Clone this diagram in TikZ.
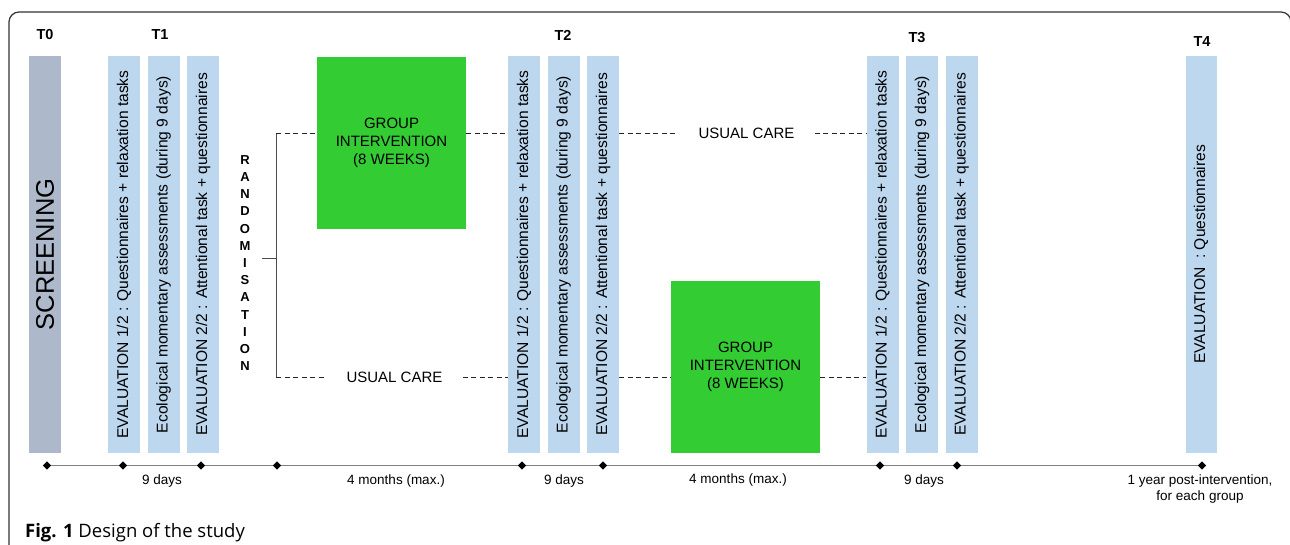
\documentclass[tikz,border=0pt]{standalone}
\usepackage{fontspec}
\usepackage{graphicx}
\setmainfont{Liberation Sans}
\newfontfamily\capfont{Open Sans}
\usetikzlibrary{shapes.geometric, arrows, calc}
\definecolor{evalblue}{HTML}{BDD7EE}
\definecolor{screengray}{HTML}{ADB9CA}
\definecolor{groupgreen}{HTML}{33CC33}
\definecolor{axisgray}{HTML}{808080}
\newcommand{\vlabel}[1]{\rotatebox{90}{#1}}
\tikzstyle{timepoint} = [font=\fontsize{14.5}{16}\selectfont\bfseries]
\tikzstyle{screenbar} = [rectangle, minimum width=32pt, minimum height=397pt, inner sep=0pt, fill=screengray, font=\fontsize{25.5}{30}\selectfont]
\tikzstyle{evalbar} = [rectangle, minimum width=32pt, minimum height=397pt, inner sep=0pt, fill=evalblue, font=\fontsize{15.6}{18}\selectfont]
\tikzstyle{groupbox} = [rectangle, minimum width=149pt, minimum height=172pt, align=center, fill=groupgreen, font=\fontsize{15}{18}\selectfont]
\tikzstyle{care} = [inner xsep=20pt, inner ysep=0pt, font=\fontsize{15}{18}\selectfont]
\tikzstyle{randtext} = [align=center, font=\fontsize{13}{17.2}\selectfont\bfseries]
\tikzstyle{arm} = [line width=0.9pt, dash pattern=on 5pt off 3.5pt, black!85]
\tikzstyle{bracket} = [line width=0.9pt, black!70]
\tikzstyle{daymark} = [diamond, fill=black, inner sep=0pt, minimum size=8.5pt]
\tikzstyle{timeline} = [line width=1.3pt, axisgray]
\tikzstyle{span} = [align=center, font=\fontsize{13.5}{16}\selectfont]

\begin{document}
\begin{tikzpicture}[x=1pt, y=-1pt, node distance=39.5pt]
      \useasboundingbox (0,0) rectangle (1290,544);
      % frame
      \draw [line width=1.2pt, black!80, rounded corners=10pt] (9,560) -- (9,12) -- (1291,12) -- (1291,560);

      % screening
      \node (t0) [timepoint] at (45,35) {T0};
      \node (scr) [screenbar] at (45,254.5) {\vlabel{SCREENING}};

      % T1
      \node (t1) [timepoint] at (160,35) {T1};
      \node (e1a) [evalbar] at (124,254.5) {\vlabel{EVALUATION 1/2 : Questionnaires + relaxation tasks}};
      \node (e1b) [evalbar, right of=e1a] {\vlabel{Ecological momentary assessments (during 9 days)}};
      \node (e1c) [evalbar, right of=e1b] {\vlabel{EVALUATION 2/2 : Attentional task + questionnaires}};

      % randomisation
      \node (rand) [randtext] at (245,263) {R\\A\\N\\D\\O\\M\\I\\S\\A\\T\\I\\O\\N};
      \coordinate (split) at (276,258);
      \coordinate (stub) at (262,258);
      \coordinate (upper) at (276,133);
      \coordinate (lower) at (276,377);
      \draw [bracket] (upper) -- (lower);
      \draw [bracket] (stub) -- (split);

      \node (g1) [groupbox] at (391.5,142.5) {GROUP\\INTERVENTION\\(8 WEEKS)};
      \node (uc1) [care] at (394.5,377) {USUAL CARE};

      % T2
      \node (t2) [timepoint] at (563,35) {T2};
      \node (e2a) [evalbar] at (524,254.5) {\vlabel{EVALUATION 1/2 : Questionnaires + relaxation tasks}};
      \node (e2b) [evalbar, right of=e2a] {\vlabel{Ecological momentary assessments (during 9 days)}};
      \node (e2c) [evalbar, right of=e2b] {\vlabel{EVALUATION 2/2 : Attentional task + questionnaires}};

      \node (uc2) [care] at (746.5,133) {USUAL CARE};
      \node (g2) [groupbox] at (745.5,367) {GROUP\\INTERVENTION\\(8 WEEKS)};

      % T3
      \node (t3) [timepoint] at (917,38) {T3};
      \node (e3a) [evalbar] at (882.5,254.5) {\vlabel{EVALUATION 1/2 : Questionnaires + relaxation tasks}};
      \node (e3b) [evalbar, right of=e3a] {\vlabel{Ecological momentary assessments (during 9 days)}};
      \node (e3c) [evalbar, right of=e3b] {\vlabel{EVALUATION 2/2 : Attentional task + questionnaires}};

      % T4
      \node (t4) [timepoint] at (1202,42) {T4};
      \node (e4) [evalbar, minimum width=31pt] at (1201,254.5) {\vlabel{EVALUATION\ \ : Questionnaires}};

      % arms
      \draw [arm] (upper) -- (upper -| g1.west);
      \draw [arm] (upper -| g1.east) -- (upper -| e2a.west);
      \draw [arm] (upper -| e2c.east) -- (uc2.west);
      \draw [arm] (uc2.east) -- (upper -| e3a.west);

      \draw [arm] (lower) -- (uc1.west);
      \draw [arm] (uc1.east) -- (lower -| e2a.west);
      \draw [arm] (lower -| e2c.east) -- (lower -| g2.west);
      \draw [arm] (lower -| g2.east) -- (lower -| e3a.west);

      % time axis
      \foreach \x [count=\i from 0] in {47,123,201,277,522,603,880,957,1202}
        \node (d\i) [daymark] at (\x,465.5) {};
      \foreach \i [evaluate=\i as \j using int(\i+1)] in {0,...,7}
        \draw [timeline] (d\i) -- (d\j);

      \node (s1) [span] at (162,481) {9 days};
      \node (s2) [span] at (396,481) {4 months (max.)};
      \node (s3) [span] at (564,481) {9 days};
      \node (s4) [span] at (738,480) {4 months (max.)};
      \node (s5) [span] at (924,481) {9 days};
      \node (s6) [span] at (1200,489) {1 year post-intervention,\\for each group};

      \node (caption) [anchor=base west, inner sep=0pt, font=\capfont\fontsize{18.5}{22}\selectfont] at (25,537) {\textbf{Fig. 1} Design of the study};
\end{tikzpicture}
\end{document}
